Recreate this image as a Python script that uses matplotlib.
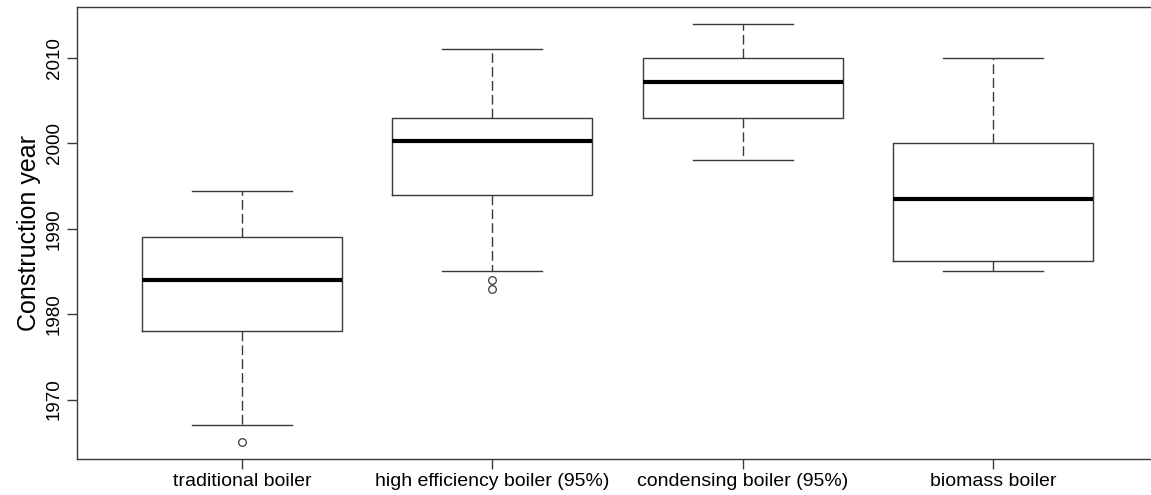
import matplotlib
matplotlib.use("Agg")
import matplotlib.pyplot as plt

# boiler types and their construction-year summaries
categories = ["traditional boiler", "high efficiency boiler (95%)",
              "condensing boiler (95%)", "biomass boiler"]
whisker_low = [1967, 1985, 1998, 1985]
q1 = [1978, 1994, 2003, 1986.2]
median = [1984, 2000.3, 2007.2, 1993.5]
q3 = [1989, 2003, 2010, 2000]
whisker_high = [1994.4, 2011, 2014, 2010]
outliers = [[1965], [1984, 1983], [], []]

plt.rcParams["font.family"] = ["Liberation Sans", "DejaVu Sans"]

W, H = 1151, 495
fig = plt.figure(figsize=(W / 100, H / 100), dpi=100)
# plot region runs past the right edge of the canvas
left, right, top, bottom = 77, 1158, 7, 459
ax = fig.add_axes([left / W, 1 - bottom / H, (right - left) / W, (bottom - top) / H])

stats = []
for i, name in enumerate(categories):
    stats.append(dict(label=name, whislo=whisker_low[i], q1=q1[i], med=median[i],
                      q3=q3[i], whishi=whisker_high[i], fliers=outliers[i]))

line_col = "#3a3a3a"
ax.bxp(stats, positions=range(1, 5), widths=0.8, showfliers=True,
       boxprops=dict(color=line_col, linewidth=1.0),
       medianprops=dict(color="black", linewidth=3.0, solid_capstyle="butt"),
       whiskerprops=dict(color=line_col, linewidth=1.0, linestyle=(0, (7, 3))),
       capprops=dict(color=line_col, linewidth=1.0),
       capwidths=0.4,
       flierprops=dict(marker="o", markersize=5.5, markerfacecolor="none",
                       markeredgecolor=line_col, markeredgewidth=0.9))

ax.set_xlim(0.34, 4.66)
ax.set_ylim(1963.04, 2015.96)
ax.set_yticks([1970, 1980, 1990, 2000, 2010])
ax.set_yticklabels(["1970", "1980", "1990", "2000", "2010"], rotation=90, va="center")
ax.set_xticks(range(1, 5))
ax.set_xticklabels(categories)

for s in ax.spines.values():
    s.set_color(line_col)
    s.set_linewidth(1.0)
ax.tick_params(axis="both", length=7, width=1.0, color=line_col, labelcolor="black")
ax.tick_params(axis="x", labelsize=14, pad=3)
ax.tick_params(axis="y", labelsize=13.5, pad=3)
ax.set_ylabel("Construction year", fontsize=18, labelpad=4)

fig.savefig("out.png", dpi=100, facecolor="white")
